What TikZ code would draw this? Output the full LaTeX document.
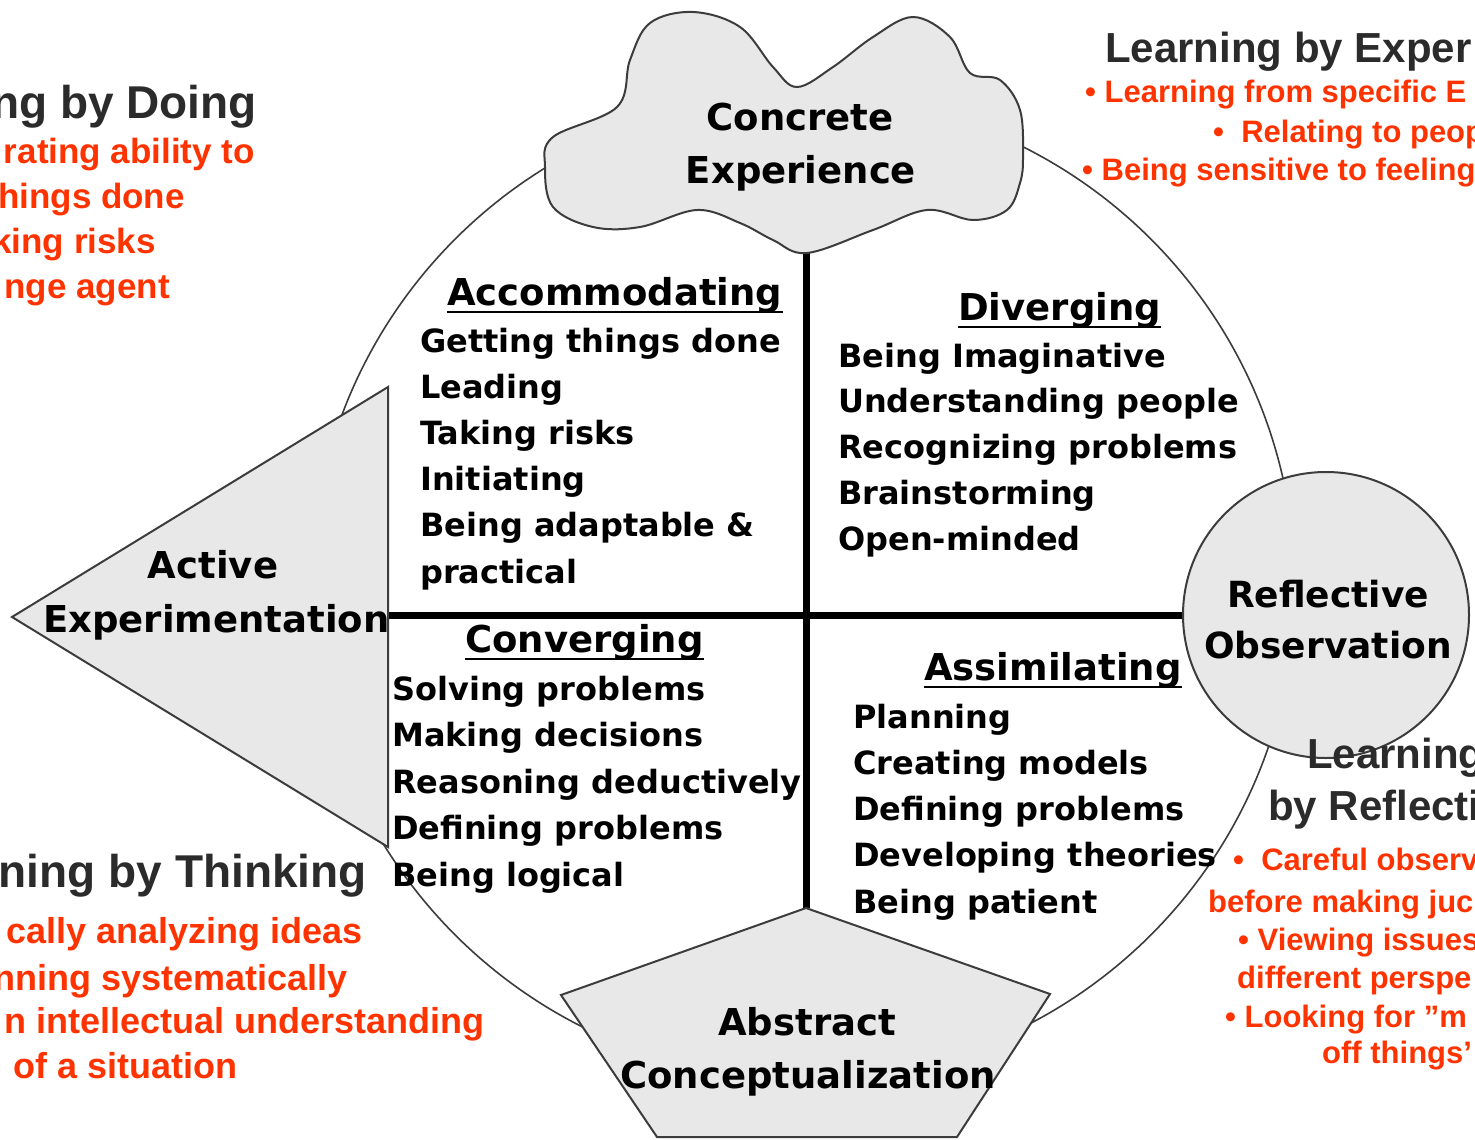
\documentclass[tikz,border=0pt]{standalone}
\usepackage{fontspec}
\setmainfont{Liberation Sans}
\newfontfamily\boxfont{DejaVu Sans}
\pgfdeclarelayer{bg}
\pgfsetlayers{bg,main}
\definecolor{headgray}{HTML}{2B2B2B}
\definecolor{kolbred}{HTML}{FF3300}
\definecolor{zonegray}{HTML}{E8E8E8}
\definecolor{rimgray}{HTML}{3C3C3C}
\tikzset{every picture/.append style={x=1pt, y=-1pt}}
\tikzset{
    zone/.style={draw=rimgray, line width=2pt, fill=zonegray},
    rim/.style={draw=rimgray, line width=1.6pt},
    axis/.style={line width=7pt, black},
    uline/.style={line width=2.4pt, black},
    stage/.style={inner sep=0, anchor=base,
        font=\boxfont\bfseries\fontsize{37}{40}\selectfont},
    quad/.style={inner sep=0, anchor=base west,
        font=\boxfont\bfseries\fontsize{37}{40}\selectfont},
    item/.style={inner sep=0, anchor=base west,
        font=\boxfont\bfseries\fontsize{32}{36}\selectfont},
    mode/.style={inner sep=0, text=headgray,
        font=\bfseries\fontsize{46}{50}\selectfont},
    trait/.style={inner sep=0, text=kolbred,
        font=\bfseries\fontsize{35}{40}\selectfont},
    smalltrait/.style={trait, font=\bfseries\fontsize{31}{36}\selectfont}
}

\begin{document}
\begin{tikzpicture}
  \useasboundingbox (0,0) rectangle (1475,1140);
  \clip (0,0) rectangle (1475,1140);

  % the four stages
  \draw[zone] plot[smooth cycle, tension=.6] coordinates {(553,137) (617,107)
    (630,60) (650,23) (693,12) (740,27) (773,67) (797,87) (833,67) (873,37)
    (913,17) (950,37) (970,73) (1000,80) (1020,110) (1023,157) (1020,183)
    (1007,210) (973,220) (927,210) (873,230) (807,253) (773,240) (740,223)
    (697,210) (640,227) (593,227) (553,207) (545,167)};
  \coordinate (ce) at (806,250);
  \draw[zone] (12,617) -- (388,387) -- (388,847) -- cycle;
  \coordinate (ae) at (388,615);
  \draw[zone] (806,908) -- (1050,994) -- (957,1137) -- (657,1137) -- (561,995) -- cycle;
  \coordinate (ac) at (806,908);
  \node (ro) [zone, circle, minimum size=286pt, inner sep=0] at (1326,615) {};

  \begin{pgfonlayer}{bg}
    \draw[rim] (803,587) circle [radius=492pt];
    \draw[axis] (ce) -- (ac);
    \draw[axis] (ae) -- (ro.west);
  \end{pgfonlayer}

  \node (ce1) [stage] at (800,130) {Concrete};
  \node (ce2) [stage] at (801,183) {Experience};
  \node (ae1) [stage] at (213,578) {Active};
  \node (ae2) [stage, anchor=base west] at (43,632) {Experimentation};
  \node (ro1) [stage, font=\boxfont\bfseries\fontsize{36}{40}\selectfont] at (1328,607) {Reflective};
  \node (ro2) [stage, font=\boxfont\bfseries\fontsize{36}{40}\selectfont] at (1328,658) {Observation};
  \node (ac1) [stage] at (807,1035) {Abstract};
  \node (ac2) [stage] at (808,1088) {Conceptualization};

  % learning styles
  \node (acc) [quad] at (447,305) {Accommodating};
  \node (div) [quad] at (958,320) {Diverging};
  \node (con) [quad] at (465,652) {Converging};
  \node (asm) [quad] at (924,680) {Assimilating};
  \foreach \q in {acc,div,con,asm}
    \draw[uline] ([yshift=-7pt]\q.base west) -- ([yshift=-7pt]\q.base east);

  \foreach \t [count=\i from 0] in {Getting things done, Leading, Taking risks,
      Initiating, Being adaptable \&, practical}
    \node (acc-\i) [item] at (420,352+46.2*\i) {\t};
  \foreach \t [count=\i from 0] in {Being Imaginative, Understanding people,
      Recognizing problems, Brainstorming, Open-minded}
    \node (div-\i) [item] at (838,367+45.8*\i) {\t};
  \foreach \t [count=\i from 0] in {Solving problems, Making decisions,
      Reasoning deductively, Defining problems, Being logical}
    \node (con-\i) [item] at (392,700+46.5*\i) {\t};
  \foreach \t [count=\i from 0] in {Planning, Creating models,
      Defining problems, Developing theories, Being patient}
    \node (asm-\i) [item] at (853,728+46.3*\i) {\t};

  % learning modes
  \node (doing) [mode, anchor=base east] at (257,118) {ng by Doing};
  \node (d1) [trait, anchor=base east] at (255,163) {rating ability to};
  \node (d2) [trait, anchor=base east] at (185,208) {hings done};
  \node (d3) [trait, anchor=base east] at (156,253) {king risks};
  \node (d4) [trait, anchor=base east] at (170,298) {nge agent};

  \node (exper) [mode, anchor=base west, font=\bfseries\fontsize{42}{46}\selectfont] at (1105,63) {Learning by Exper};
  \node (e1) [smalltrait, anchor=base west] at (1085,102) {• Learning from specific E};
  \node (e2) [smalltrait, anchor=base west] at (1213,142) {•~ Relating to peop};
  \node (e3) [smalltrait, anchor=base west] at (1082,180) {• Being sensitive to feeling};

  \node (think) [mode, anchor=base east] at (367,887) {ning by Thinking};
  \node (t1) [trait, font=\bfseries\fontsize{36}{40}\selectfont, anchor=base east] at (363,943) {cally analyzing ideas};
  \node (t2) [trait, font=\bfseries\fontsize{36}{40}\selectfont, anchor=base east] at (348,990) {nning systematically};
  \node (t3) [trait, font=\bfseries\fontsize{36}{40}\selectfont, anchor=base east] at (485,1033) {n intellectual understanding};
  \node (t4) [trait, font=\bfseries\fontsize{36}{40}\selectfont, anchor=base west] at (13,1078) {of a situation};

  \node (refl1) [mode, anchor=base west, font=\bfseries\fontsize{42}{46}\selectfont] at (1307,768) {Learning};
  \node (refl2) [mode, anchor=base west, font=\bfseries\fontsize{42}{46}\selectfont] at (1268,820) {by Reflecti};
  \node (r1) [smalltrait, anchor=base west] at (1233,870) {•~ Careful observ};
  \node (r2) [smalltrait, anchor=base west] at (1208,912) {before making juc};
  \node (r3) [smalltrait, anchor=base west] at (1238,950) {• Viewing issues};
  \node (r4) [smalltrait, anchor=base west] at (1237,988) {different perspe};
  \node (r5) [smalltrait, anchor=base west] at (1225,1027) {• Looking for ”m};
  \node (r6) [smalltrait, anchor=base west] at (1322,1063) {off things’};
\end{tikzpicture}
\end{document}
